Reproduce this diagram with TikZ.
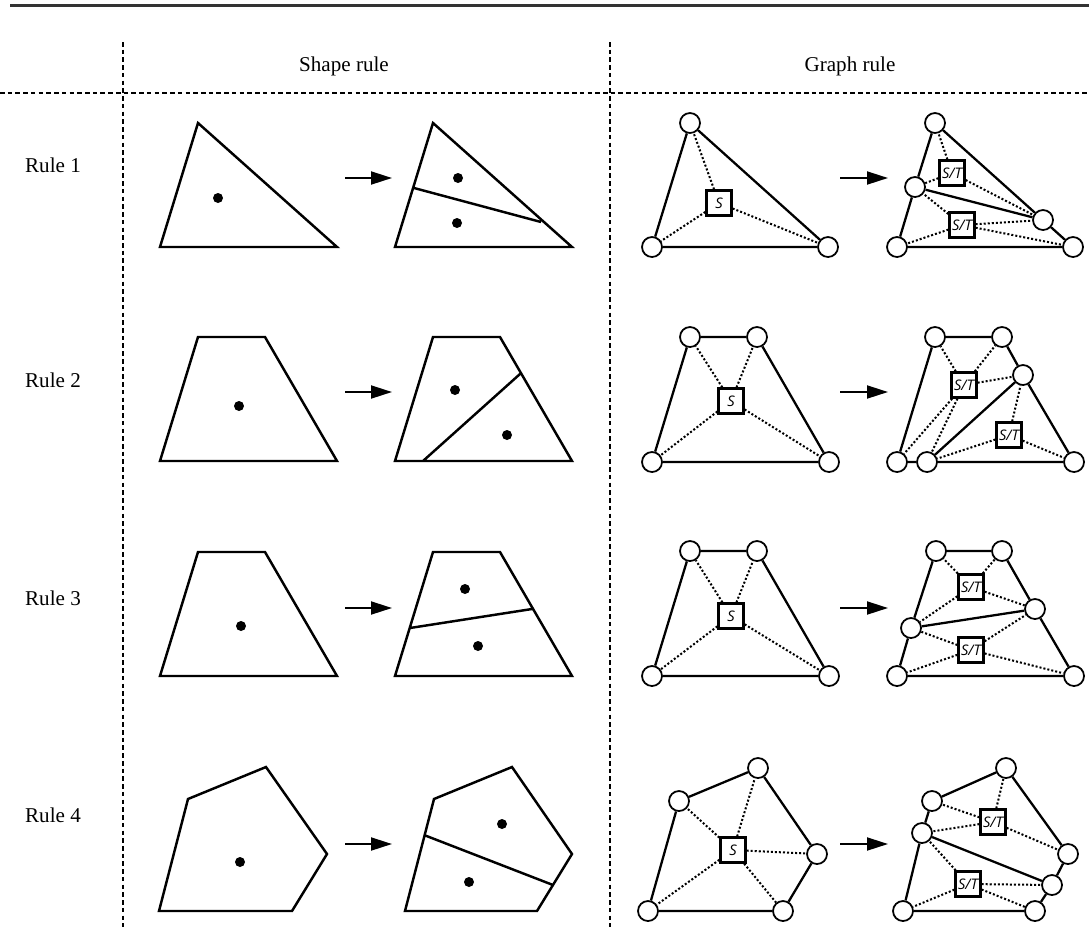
\documentclass[tikz,border=0pt]{standalone}
\usepackage{fontspec}
\setmainfont{Liberation Serif}
\newfontfamily\boxfont{Open Sans}
\usetikzlibrary{arrows.meta}

\begin{document}
\begin{tikzpicture}[x=0.02cm,y=-0.02cm,
 poly/.style={line width=1.4pt,line join=miter},
 seed/.style={fill=black},
 edge/.style={line width=1.3pt},
 link/.style={line width=1.15pt,dash pattern=on 1.15pt off 1.15pt},
 vtx/.style={circle,draw,fill=white,line width=1pt,minimum size=0.4cm,inner sep=0pt},
 sbox/.style={draw,fill=white,line width=1.3pt,minimum size=0.5cm,inner sep=0pt,font=\boxfont\itshape\fontsize{8.3pt}{9pt}\selectfont},
 ruleto/.style={line width=1.1pt,-{Triangle[length=0.42cm,width=0.26cm]}},
 sep/.style={line width=1.2pt,dash pattern=on 2.6pt off 1.8pt}]
\useasboundingbox (0,0) rectangle (1089,927);

% frame
\draw[line width=1.7pt,black!80] (10,5.5) -- (1089,5.5);
\draw[sep] (0,93) -- (1089,93);
\draw[sep] (123,42) -- (123,927);
\draw[sep] (610,42) -- (610,927);
\node[font=\fontsize{12pt}{14pt}\selectfont] (hshape) at (344,66) {Shape rule};
\node[font=\fontsize{12pt}{14pt}\selectfont] (hgraph) at (850,66) {Graph rule};
\foreach \n/\y in {1/165,2/380,3/598,4/815}
 \node[font=\fontsize{12pt}{14pt}\selectfont] (rule\n) at (53,\y) {Rule \n};
\foreach \y in {178,392,608,844}{
 \draw[ruleto] (345,\y) -- (392,\y);
 \draw[ruleto] (840,\y) -- (888,\y);}

% shape rule 1
\draw[poly] (198,123) -- (160,247) -- (337,247) -- cycle;
\fill[seed] (218,198) circle (5);
\draw[poly] (433,123) -- (395,247) -- (572,247) -- cycle (414,188) -- (541,222);
\fill[seed] (458,178) circle (5) (457,223) circle (5);
% shape rule 2
\draw[poly] (198,337) -- (265,337) -- (337,461) -- (160,461) -- cycle;
\fill[seed] (239,406) circle (5);
\draw[poly] (433,337) -- (500,337) -- (572,461) -- (395,461) -- cycle (423,461) -- (520,374);
\fill[seed] (455,390) circle (5) (507,435) circle (5);
% shape rule 3
\draw[poly] (198,552) -- (265,552) -- (337,676) -- (160,676) -- cycle;
\fill[seed] (241,626) circle (5);
\draw[poly] (433,552) -- (500,552) -- (572,676) -- (395,676) -- cycle (410,628) -- (532,609);
\fill[seed] (465,589) circle (5) (478,646) circle (5);
% shape rule 4
\draw[poly] (188,799) -- (266,767) -- (327,854) -- (292,911) -- (159,911) -- cycle;
\fill[seed] (240,862) circle (5);
\draw[poly] (434,799) -- (512,767) -- (572,854) -- (537,911) -- (405,911) -- cycle (424,835) -- (553,885);
\fill[seed] (502,824) circle (5) (469,882) circle (5);

% graph rule 1
\node[vtx] (p1t) at (690,123) {};
\node[vtx] (p1l) at (652,247) {};
\node[vtx] (p1r) at (828,247) {};
\node[sbox] (s1) at (719,203) {S};
\draw[edge] (p1t) -- (p1l) -- (p1r) -- (p1t);
\draw[link] (s1) -- (p1t) (s1) -- (p1l) (s1) -- (p1r);
\node[vtx] (q1t) at (935,123) {};
\node[vtx] (q1l) at (897,247) {};
\node[vtx] (q1r) at (1073,247) {};
\node[vtx] (q1a) at (915,187) {};
\node[vtx] (q1b) at (1043,220) {};
\node[sbox] (t1a) at (952,173) {S/T};
\node[sbox] (t1b) at (962,225) {S/T};
\draw[edge] (q1t) -- (q1a) -- (q1l) -- (q1r) -- (q1b) -- (q1t) (q1a) -- (q1b);
\draw[link] (t1a) -- (q1t) (t1a) -- (q1a) (t1a) -- (q1b);
\draw[link] (t1b) -- (q1a) (t1b) -- (q1l) (t1b) -- (q1b) (t1b) -- (q1r);

% graph rule 2
\node[vtx] (p2a) at (690,337) {};
\node[vtx] (p2b) at (757,337) {};
\node[vtx] (p2c) at (652,462) {};
\node[vtx] (p2d) at (829,462) {};
\node[sbox] (s2) at (731,401) {S};
\draw[edge] (p2a) -- (p2b) -- (p2d) -- (p2c) -- (p2a);
\draw[link] (s2) -- (p2a) (s2) -- (p2b) (s2) -- (p2c) (s2) -- (p2d);
\node[vtx] (q2a) at (935,337) {};
\node[vtx] (q2b) at (1002,337) {};
\node[vtx] (q2c) at (897,462) {};
\node[vtx] (q2e) at (927,462) {};
\node[vtx] (q2d) at (1074,462) {};
\node[vtx] (q2m) at (1023,375) {};
\node[sbox] (t2a) at (964,385) {S/T};
\node[sbox] (t2b) at (1009,435) {S/T};
\draw[edge] (q2a) -- (q2b) -- (q2m) -- (q2d) -- (q2e) -- (q2c) -- (q2a) (q2e) -- (q2m);
\draw[link] (t2a) -- (q2a) (t2a) -- (q2b) (t2a) -- (q2m) (t2a) -- (q2c) (t2a) -- (q2e);
\draw[link] (t2b) -- (q2m) (t2b) -- (q2e) (t2b) -- (q2d);

% graph rule 3
\node[vtx] (p3a) at (690,551) {};
\node[vtx] (p3b) at (757,551) {};
\node[vtx] (p3c) at (652,676) {};
\node[vtx] (p3d) at (829,676) {};
\node[sbox] (s3) at (731,616) {S};
\draw[edge] (p3a) -- (p3b) -- (p3d) -- (p3c) -- (p3a);
\draw[link] (s3) -- (p3a) (s3) -- (p3b) (s3) -- (p3c) (s3) -- (p3d);
\node[vtx] (q3a) at (936,551) {};
\node[vtx] (q3b) at (1002,551) {};
\node[vtx] (q3c) at (897,676) {};
\node[vtx] (q3d) at (1074,676) {};
\node[vtx] (q3l) at (911,628) {};
\node[vtx] (q3r) at (1035,609) {};
\node[sbox] (t3a) at (971,587) {S/T};
\node[sbox] (t3b) at (971,650) {S/T};
\draw[edge] (q3a) -- (q3b) -- (q3r) -- (q3d) -- (q3c) -- (q3l) -- (q3a) (q3l) -- (q3r);
\draw[link] (t3a) -- (q3a) (t3a) -- (q3b) (t3a) -- (q3l) (t3a) -- (q3r);
\draw[link] (t3b) -- (q3l) (t3b) -- (q3r) (t3b) -- (q3c) (t3b) -- (q3d);

% graph rule 4
\node[vtx] (p4t) at (758,768) {};
\node[vtx] (p4a) at (679,801) {};
\node[vtx] (p4r) at (817,854) {};
\node[vtx] (p4c) at (648,911) {};
\node[vtx] (p4d) at (783,911) {};
\node[sbox] (s4) at (733,850) {S};
\draw[edge] (p4a) -- (p4t) -- (p4r) -- (p4d) -- (p4c) -- (p4a);
\draw[link] (s4) -- (p4t) (s4) -- (p4a) (s4) -- (p4r) (s4) -- (p4c) (s4) -- (p4d);
\node[vtx] (q4t) at (1006,768) {};
\node[vtx] (q4a) at (932,801) {};
\node[vtx] (q4l) at (922,833) {};
\node[vtx] (q4r) at (1068,854) {};
\node[vtx] (q4m) at (1052,885) {};
\node[vtx] (q4d) at (1035,911) {};
\node[vtx] (q4c) at (903,911) {};
\node[sbox] (t4a) at (993,822) {S/T};
\node[sbox] (t4b) at (968,884) {S/T};
\draw[edge] (q4a) -- (q4t) -- (q4r) -- (q4m) -- (q4d) -- (q4c) -- (q4l) -- (q4a) (q4l) -- (q4m);
\draw[link] (t4a) -- (q4t) (t4a) -- (q4a) (t4a) -- (q4l) (t4a) -- (q4r);
\draw[link] (t4b) -- (q4l) (t4b) -- (q4c) (t4b) -- (q4m) (t4b) -- (q4d);
\end{tikzpicture}
\end{document}
